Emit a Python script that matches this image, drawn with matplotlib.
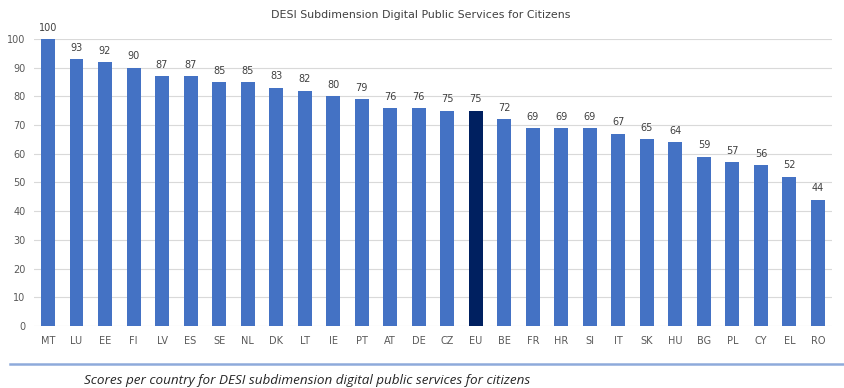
import matplotlib.pyplot as plt

countries = ['MT', 'LU', 'EE', 'FI', 'LV', 'ES', 'SE', 'NL', 'DK', 'LT', 'IE', 'PT', 'AT', 'DE',
             'CZ', 'EU', 'BE', 'FR', 'HR', 'SI', 'IT', 'SK', 'HU', 'BG', 'PL', 'CY', 'EL', 'RO']
scores = [100, 93, 92, 90, 87, 87, 85, 85, 83, 82, 80, 79, 76, 76,
          75, 75, 72, 69, 69, 69, 67, 65, 64, 59, 57, 56, 52, 44]

colors = ['#002060' if c == 'EU' else '#4472C4' for c in countries]

fig = plt.figure(figsize=(8.45, 3.88), dpi=100)
ax = fig.add_axes([0.0399, 0.160, 0.945, 0.7395])

x = range(len(countries))
ax.bar(x, scores, width=0.49, color=colors, zorder=3)
for i, v in enumerate(scores):
    ax.text(i, v + 2.2, f"{v}", ha='center', va='bottom', fontsize=7, color='#404040', clip_on=False)

ax.set_xlim(-0.5, len(countries) - 0.5)
ax.set_ylim(0, 100)
ax.set_yticks(range(0, 101, 10))
ax.set_xticks(list(x))
ax.set_xticklabels(countries)
ax.tick_params(axis='both', length=0, labelsize=7, labelcolor='#595959')
ax.tick_params(axis='x', pad=7)
ax.tick_params(axis='y', pad=6)
ax.grid(axis='y', color='#d9d9d9', linewidth=0.8, zorder=0)
for s in ax.spines.values():
    s.set_visible(False)

fig.text(0.498, 0.962, "DESI Subdimension Digital Public Services for Citizens",
         ha='center', va='center', fontsize=7.9, color='#404040')

# separator line and caption under the chart
fig.add_artist(plt.Line2D([0.012, 1.0], [0.062, 0.062], color='#8eaadb', linewidth=1.8))
fig.text(0.1, 0.02, "Scores per country for DESI subdimension digital public services for citizens",
         ha='left', va='center', fontsize=9.7, style='italic', color='#262626', family='Open Sans')

fig.savefig('out.png', dpi=100)
